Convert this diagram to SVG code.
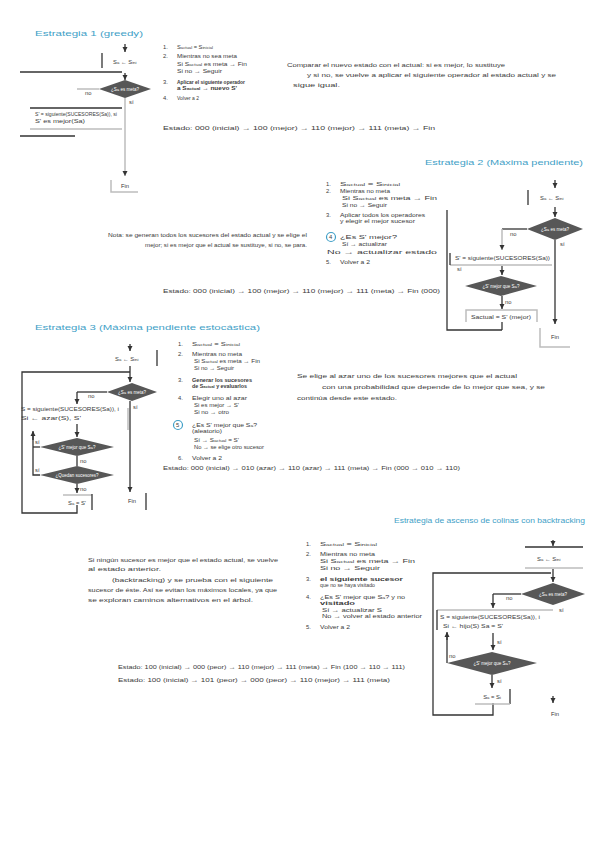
<svg xmlns="http://www.w3.org/2000/svg" width="600" height="848" viewBox="0 0 600 848">
<style>
text{font-family:"Liberation Sans",Arial,sans-serif;font-size:5.8px;fill:#3a3a3a}
.h{font-size:7.5px;fill:#3f9fc7}
.b{font-weight:bold}
.s{font-size:4.3px}
.dk{stroke:#333;stroke-width:1.3;fill:none}
.lg{stroke:#bdbdbd;stroke-width:1.5;fill:none}
.dia{fill:#575757}
.dt{fill:#fff;font-size:4.5px;text-anchor:middle}
.c{text-anchor:middle}
.ring{fill:none;stroke:#3f9fc7;stroke-width:1.2}
</style>
<defs>
<marker id="ar" markerWidth="6" markerHeight="6" refX="5" refY="3" orient="auto" markerUnits="userSpaceOnUse"><path d="M0,0.5 L5,3 L0,5.5 z" fill="#333"/></marker>
</defs>
<rect width="600" height="848" fill="#fff"/>

<!-- Section 1 -->
<g id="sec1-text">
<text class="h" x="35" y="36" textLength="108" lengthAdjust="spacingAndGlyphs">Estrategia 1 (greedy)</text>
<text x="163" y="49">1.</text><text x="177" y="49" textLength="36" lengthAdjust="spacingAndGlyphs">S<tspan class="s">actual</tspan> = S<tspan class="s">inicial</tspan></text>
<text x="163" y="58">2.</text><text x="177" y="58" textLength="60" lengthAdjust="spacingAndGlyphs">Mientras no sea meta</text>
<text x="177" y="66" textLength="70" lengthAdjust="spacingAndGlyphs">Si S<tspan class="s">actual</tspan> es meta → Fin</text>
<text x="177" y="73" textLength="45" lengthAdjust="spacingAndGlyphs">Si no → Seguir</text>
<text x="163" y="84">3.</text><text class="b" x="177" y="84" textLength="68" lengthAdjust="spacingAndGlyphs">Aplicar el siguiente operador</text>
<text class="b" x="177" y="90" textLength="60" lengthAdjust="spacingAndGlyphs">a S<tspan class="s">actual</tspan> → nuevo S'</text>
<text x="163" y="100">4.</text><text x="177" y="100" textLength="22" lengthAdjust="spacingAndGlyphs">Volver a 2</text>
<text x="287" y="67" textLength="218" lengthAdjust="spacingAndGlyphs">Comparar el nuevo estado con el actual: si es mejor, lo sustituye</text>
<text x="307" y="77" textLength="249" lengthAdjust="spacingAndGlyphs">y si no, se vuelve a aplicar el siguiente operador al estado actual y se</text>
<text x="293" y="87" textLength="47" lengthAdjust="spacingAndGlyphs">sigue igual.</text>
<text x="163" y="130" textLength="272" lengthAdjust="spacingAndGlyphs">Estado: 000 (inicial) → 100 (mejor) → 110 (mejor) → 111 (meta) → Fin</text>
</g>
<g id="fc1">
<line class="dk" x1="125" y1="44" x2="125" y2="52" marker-end="url(#ar)"/>
<line class="dk" x1="102" y1="53" x2="102" y2="68"/>
<text x="113" y="64" font-size="5">S<tspan class="s">a</tspan> ← S<tspan class="s">ini</tspan></text>
<line class="dk" x1="20" y1="72" x2="122" y2="72"/>
<line class="dk" x1="125" y1="73" x2="125" y2="80" marker-end="url(#ar)"/>
<polygon class="dia" points="99,89 125,80 151,89 125,98"/>
<text class="dt" x="125" y="91">¿S<tspan class="s">a</tspan> es meta?</text>
<line class="lg" x1="99" y1="89" x2="77" y2="89"/>
<text x="85" y="95" font-size="5">no</text>
<text x="129" y="104" font-size="5">sí</text>
<line class="dk" x1="30" y1="108" x2="122" y2="108"/>
<text x="35" y="116" textLength="82" lengthAdjust="spacingAndGlyphs">S' = siguiente(SUCESORES(Sa)), si</text>
<text x="35" y="123" textLength="50" lengthAdjust="spacingAndGlyphs">S' es mejor(Sa)</text>
<line class="lg" x1="30" y1="129" x2="122" y2="129"/>
<line class="dk" x1="20" y1="136" x2="75" y2="136"/>
<line class="lg" x1="125" y1="98" x2="125" y2="176" marker-end="url(#ar)"/>
<polyline class="lg" points="111,180 111,192 138,192"/>
<text class="c" x="125" y="188" font-size="5">Fin</text>
</g>

<!-- Section 2 -->
<g id="sec2-text">
<text class="h" x="425" y="165" textLength="158" lengthAdjust="spacingAndGlyphs">Estrategia 2 (Máxima pendiente)</text>
<text x="326" y="186">1.</text><text x="340" y="186" textLength="60" lengthAdjust="spacingAndGlyphs">S<tspan class="s">actual</tspan> = S<tspan class="s">inicial</tspan></text>
<text x="326" y="193">2.</text><text x="340" y="193" textLength="50" lengthAdjust="spacingAndGlyphs">Mientras no meta</text>
<text x="342" y="200" textLength="95" lengthAdjust="spacingAndGlyphs">Si S<tspan class="s">actual</tspan> es meta → Fin</text>
<text x="342" y="207" textLength="45" lengthAdjust="spacingAndGlyphs">Si no → Seguir</text>
<text x="326" y="217">3.</text><text x="340" y="217" textLength="85" lengthAdjust="spacingAndGlyphs">Aplicar todos los operadores</text>
<text x="340" y="223" textLength="75" lengthAdjust="spacingAndGlyphs">y elegir el mejor sucesor</text>
<circle class="ring" cx="331" cy="237" r="4.5"/>
<text x="329" y="239">4</text><text x="340" y="239" textLength="57" lengthAdjust="spacingAndGlyphs">¿Es S' mejor?</text>
<text x="342" y="246" textLength="45" lengthAdjust="spacingAndGlyphs">Sí → actualizar</text>
<text x="327" y="254" textLength="110" lengthAdjust="spacingAndGlyphs">No → actualizar estado</text>
<text x="326" y="264">5.</text><text x="340" y="264" textLength="30" lengthAdjust="spacingAndGlyphs">Volver a 2</text>
<text x="108" y="237" textLength="199" lengthAdjust="spacingAndGlyphs">Nota: se generan todos los sucesores del estado actual y se elige el</text>
<text x="145" y="247" textLength="162" lengthAdjust="spacingAndGlyphs">mejor; si es mejor que el actual se sustituye, si no, se para.</text>
<text x="163" y="293" textLength="277" lengthAdjust="spacingAndGlyphs">Estado: 000 (inicial) → 100 (mejor) → 110 (mejor) → 111 (meta) → Fin (000)</text>
</g>
<g id="fc2">
<line class="dk" x1="555" y1="180" x2="555" y2="188" marker-end="url(#ar)"/>
<line class="dk" x1="528" y1="190" x2="528" y2="205"/>
<text x="540" y="200" font-size="5">S<tspan class="s">a</tspan> ← S<tspan class="s">ini</tspan></text>
<line class="dk" x1="555" y1="207" x2="555" y2="217" marker-end="url(#ar)"/>
<polygon class="dia" points="527,229 555,218 583,229 555,240"/>
<text class="dt" x="555" y="231">¿S<tspan class="s">a</tspan> es meta?</text>
<polyline class="dk" points="527,229 502,229"/>
<line class="lg" x1="502" y1="229" x2="502" y2="250" marker-end="url(#ar)"/>
<text x="510" y="236" font-size="5">no</text>
<text x="560" y="246" font-size="5">sí</text>
<text x="455" y="260" textLength="95" lengthAdjust="spacingAndGlyphs">S' = siguiente(SUCESORES(Sa))</text>
<line class="lg" x1="450" y1="265" x2="552" y2="265"/>
<line class="dk" x1="450" y1="253" x2="450" y2="265"/>
<polyline class="dk" points="447,210 447,330 502,330"/>
<text x="457" y="271" font-size="5">sí</text>
<line class="dk" x1="502" y1="266" x2="502" y2="275" marker-end="url(#ar)"/>
<polygon class="dia" points="465,286 501,276 537,286 501,296"/>
<text class="dt" x="501" y="288">¿S' mejor que S<tspan class="s">a</tspan>?</text>
<text x="505" y="304" font-size="5">no</text>
<line class="dk" x1="502" y1="296" x2="502" y2="309" marker-end="url(#ar)"/>
<polyline class="lg" points="466,322 466,310 537,310 537,322"/>
<text class="c" x="501" y="319" textLength="60" lengthAdjust="spacingAndGlyphs">Sactual = S' (mejor)</text>
<line class="dk" x1="502" y1="322" x2="502" y2="330"/>
<line class="dk" x1="555" y1="240" x2="555" y2="324" marker-end="url(#ar)"/>
<polyline class="lg" points="540,328 540,347 570,347"/>
<text class="c" x="555" y="339" font-size="5">Fin</text>
</g>

<!-- Section 3 -->
<g id="sec3-text">
<text class="h" x="35" y="330" textLength="225" lengthAdjust="spacingAndGlyphs">Estrategia 3 (Máxima pendiente estocástica)</text>
<text x="178" y="346">1.</text><text x="192" y="346" textLength="48" lengthAdjust="spacingAndGlyphs">S<tspan class="s">actual</tspan> = S<tspan class="s">inicial</tspan></text>
<text x="178" y="356">2.</text><text x="192" y="356" textLength="50" lengthAdjust="spacingAndGlyphs">Mientras no meta</text>
<text x="194" y="363" textLength="66" lengthAdjust="spacingAndGlyphs">Si S<tspan class="s">actual</tspan> es meta → Fin</text>
<text x="194" y="370" textLength="40" lengthAdjust="spacingAndGlyphs">Si no → Seguir</text>
<text x="178" y="382">3.</text><text class="b" x="192" y="382" textLength="60" lengthAdjust="spacingAndGlyphs">Generar los sucesores</text>
<text class="b" x="192" y="388" textLength="55" lengthAdjust="spacingAndGlyphs">de S<tspan class="s">actual</tspan> y evaluarlos</text>
<text x="178" y="400">4.</text><text x="192" y="400" textLength="55" lengthAdjust="spacingAndGlyphs">Elegir uno al azar</text>
<text x="194" y="407" textLength="45" lengthAdjust="spacingAndGlyphs">Si es mejor → S'</text>
<text x="194" y="414" textLength="35" lengthAdjust="spacingAndGlyphs">Si no → otro</text>
<circle class="ring" cx="178" cy="425" r="4.5"/>
<text x="176" y="427">5</text><text x="192" y="427" textLength="65" lengthAdjust="spacingAndGlyphs">¿Es S' mejor que S<tspan class="s">a</tspan>?</text>
<text x="192" y="433" textLength="30" lengthAdjust="spacingAndGlyphs">(aleatorio)</text>
<text x="194" y="442" textLength="45" lengthAdjust="spacingAndGlyphs">Sí → S<tspan class="s">actual</tspan> = S'</text>
<text x="194" y="449" textLength="70" lengthAdjust="spacingAndGlyphs">No → se elige otro sucesor</text>
<text x="178" y="460">6.</text><text x="192" y="460" textLength="30" lengthAdjust="spacingAndGlyphs">Volver a 2</text>
<text x="297" y="378" textLength="220" lengthAdjust="spacingAndGlyphs">Se elige al azar uno de los sucesores mejores que el actual</text>
<text x="322" y="389" textLength="223" lengthAdjust="spacingAndGlyphs">con una probabilidad que depende de lo mejor que sea, y se</text>
<text x="297" y="400" textLength="100" lengthAdjust="spacingAndGlyphs">continúa desde este estado.</text>
<text x="163" y="470" textLength="297" lengthAdjust="spacingAndGlyphs">Estado: 000 (inicial) → 010 (azar) → 110 (azar) → 111 (meta) → Fin (000 → 010 → 110)</text>
</g>
<g id="fc3">
<line class="dk" x1="130" y1="344" x2="130" y2="351" marker-end="url(#ar)"/>
<text x="115" y="361" font-size="5">S<tspan class="s">a</tspan> ← S<tspan class="s">ini</tspan></text>
<line class="dk" x1="157" y1="350" x2="157" y2="366"/>
<polyline class="dk" points="77,505 77,513 22,513 22,372 130,372"/>
<line class="dk" x1="130" y1="366" x2="130" y2="382" marker-end="url(#ar)"/>
<polygon class="dia" points="107,392 132,383 157,392 132,401"/>
<text class="dt" x="132" y="394">¿S<tspan class="s">a</tspan> es meta?</text>
<line class="dk" x1="107" y1="392" x2="77" y2="392"/>
<text x="88" y="398" font-size="5">no</text>
<text x="133" y="409" font-size="5">sí</text>
<line class="dk" x1="77" y1="392" x2="77" y2="404" marker-end="url(#ar)"/>
<text x="21" y="411" textLength="98" lengthAdjust="spacingAndGlyphs">S = siguiente(SUCESORES(Sa)), i</text>
<text x="21" y="420" textLength="60" lengthAdjust="spacingAndGlyphs">Si ← azar(S), S'</text>
<line class="lg" x1="128" y1="408" x2="128" y2="430"/>
<line class="dk" x1="130" y1="401" x2="130" y2="492" marker-end="url(#ar)"/>
<line class="dk" x1="77" y1="424" x2="77" y2="437" marker-end="url(#ar)"/>
<polygon class="dia" points="40,447 77,438 114,447 77,456"/>
<text class="dt" x="77" y="449">¿S' mejor que S<tspan class="s">a</tspan>?</text>
<line class="dk" x1="77" y1="456" x2="77" y2="466"/>
<text x="80" y="463" font-size="5">no</text>
<polygon class="dia" points="40,475 77,466 114,475 77,484"/>
<text class="dt" x="77" y="477">¿Quedan sucesores?</text>
<polyline class="dk" points="40,447 33,447"/>
<polyline class="dk" points="40,475 33,475 33,432"/>
<line class="dk" x1="33" y1="440" x2="33" y2="431" marker-end="url(#ar)"/>
<text x="35" y="444" font-size="5">sí</text>
<text x="35" y="472" font-size="5">sí</text>
<line class="dk" x1="77" y1="484" x2="77" y2="493" marker-end="url(#ar)"/>
<text x="80" y="491" font-size="5">no</text>
<line class="lg" x1="63" y1="495" x2="92" y2="495"/>
<line class="dk" x1="92" y1="494" x2="92" y2="510"/>
<text class="c" x="77" y="505" font-size="5">S<tspan class="s">a</tspan> = S'</text>
<text class="c" x="132" y="503" font-size="5">Fin</text>
<line class="dk" x1="146" y1="493" x2="146" y2="510"/>
</g>

<!-- Section 4 -->
<g id="sec4-text">
<text class="h" x="394" y="523" textLength="191" lengthAdjust="spacingAndGlyphs">Estrategia de ascenso de colinas con backtracking</text>
<text x="88" y="562" textLength="190" lengthAdjust="spacingAndGlyphs">Si ningún sucesor es mejor que el estado actual, se vuelve</text>
<text x="88" y="571" textLength="73" lengthAdjust="spacingAndGlyphs">al estado anterior.</text>
<text x="112" y="582" textLength="161" lengthAdjust="spacingAndGlyphs">(backtracking) y se prueba con el siguiente</text>
<text x="88" y="592" textLength="189" lengthAdjust="spacingAndGlyphs">sucesor de éste. Así se evitan los máximos locales, ya que</text>
<text x="88" y="602" textLength="165" lengthAdjust="spacingAndGlyphs">se exploran caminos alternativos en el árbol.</text>
<text x="306" y="546">1.</text><text x="320" y="546" textLength="57" lengthAdjust="spacingAndGlyphs">S<tspan class="s">actual</tspan> = S<tspan class="s">inicial</tspan></text>
<text x="306" y="556">2.</text><text x="320" y="556" textLength="55" lengthAdjust="spacingAndGlyphs">Mientras no meta</text>
<text x="320" y="563" textLength="95" lengthAdjust="spacingAndGlyphs">Si S<tspan class="s">actual</tspan> es meta → Fin</text>
<text x="320" y="570" textLength="60" lengthAdjust="spacingAndGlyphs">Si no → Seguir</text>
<text x="306" y="581">3.</text><text class="b" x="320" y="581" textLength="83" lengthAdjust="spacingAndGlyphs">el siguiente sucesor</text>
<text x="320" y="587" font-size="4.5" textLength="55" lengthAdjust="spacingAndGlyphs">que no se haya visitado</text>
<text x="306" y="599">4.</text><text x="320" y="599" textLength="85" lengthAdjust="spacingAndGlyphs">¿Es S' mejor que S<tspan class="s">a</tspan>? y no</text>
<text class="b" x="320" y="605" textLength="35" lengthAdjust="spacingAndGlyphs">visitado</text>
<text x="322" y="612" textLength="60" lengthAdjust="spacingAndGlyphs">Sí → actualizar S</text>
<text x="322" y="618" textLength="100" lengthAdjust="spacingAndGlyphs">No → volver al estado anterior</text>
<text x="306" y="629">5.</text><text x="320" y="629" textLength="30" lengthAdjust="spacingAndGlyphs">Volver a 2</text>
<text x="118" y="669" textLength="287" lengthAdjust="spacingAndGlyphs">Estado: 100 (inicial) → 000 (peor) → 110 (mejor) → 111 (meta) → Fin (100 → 110 → 111)</text>
<text x="118" y="682" textLength="272" lengthAdjust="spacingAndGlyphs">Estado: 100 (inicial) → 101 (peor) → 000 (peor) → 110 (mejor) → 111 (meta)</text>
</g>
<g id="fc4">
<line class="dk" x1="553" y1="540" x2="553" y2="546" marker-end="url(#ar)"/>
<line class="dk" x1="525" y1="547" x2="583" y2="547"/>
<text x="537" y="561" font-size="5">S<tspan class="s">a</tspan> ← S<tspan class="s">ini</tspan></text>
<line class="lg" x1="525" y1="568" x2="583" y2="568"/>
<polyline class="dk" points="493,703 493,715 433,715 433,573 551,573"/>
<line class="dk" x1="553" y1="569" x2="553" y2="582" marker-end="url(#ar)"/>
<polygon class="dia" points="521,594 553,583 585,594 553,605"/>
<text class="dt" x="553" y="596">¿S<tspan class="s">a</tspan> es meta?</text>
<polyline class="dk" points="521,594 493,594"/>
<line class="dk" x1="493" y1="594" x2="493" y2="608" marker-end="url(#ar)"/>
<text x="506" y="600" font-size="5">no</text>
<text x="559" y="612" font-size="5">sí</text>
<line class="lg" x1="437" y1="610" x2="553" y2="610"/>
<line class="dk" x1="437" y1="610" x2="437" y2="630"/>
<text x="440" y="619" textLength="100" lengthAdjust="spacingAndGlyphs">S = siguiente(SUCESORES(Sa)), i</text>
<text x="443" y="628" textLength="60" lengthAdjust="spacingAndGlyphs">Si ← hijo(S) Sa = S'</text>
<line class="dk" x1="493" y1="633" x2="493" y2="650" marker-end="url(#ar)"/>
<text x="497" y="644" font-size="5">sí</text>
<polygon class="dia" points="447,663 492,652 537,663 492,675"/>
<text class="dt" x="492" y="665">¿S' mejor que S<tspan class="s">a</tspan>?</text>
<polyline class="dk" points="447,663 447,633"/>
<line class="dk" x1="447" y1="640" x2="447" y2="632" marker-end="url(#ar)"/>
<text x="449" y="658" font-size="5">no</text>
<line class="dk" x1="492" y1="675" x2="492" y2="688" marker-end="url(#ar)"/>
<text x="497" y="683" font-size="5">sí</text>
<line class="dk" x1="510" y1="689" x2="510" y2="704"/>
<line class="lg" x1="475" y1="704" x2="510" y2="704"/>
<text class="c" x="492" y="699" font-size="5.5">S<tspan class="s">a</tspan> = S<tspan class="s">i</tspan></text>
<line class="dk" x1="553" y1="696" x2="553" y2="703" marker-end="url(#ar)"/>
<text class="c" x="555" y="716" font-size="5">Fin</text>
</g>
</svg>
